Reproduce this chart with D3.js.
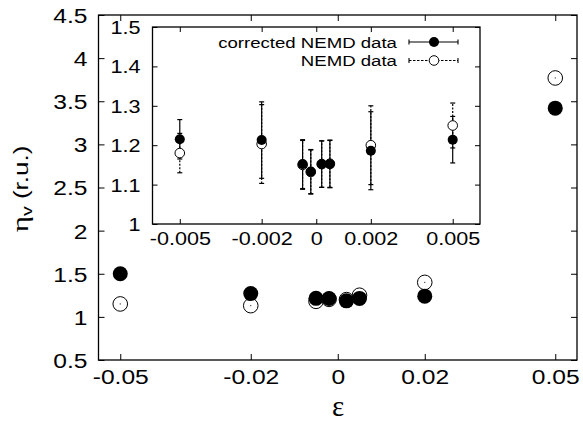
<!DOCTYPE html>
<html><head><meta charset="utf-8">
<script src="https://cdn.jsdelivr.net/npm/d3@7"></script>
<style>
body{margin:0;background:#fff;}
svg text{font-family:"Liberation Sans",Arial,sans-serif;fill:#000;}
.st{transform-box:fill-box;transform-origin:center;transform:scaleX(1.2);}
.str{transform-box:fill-box;transform-origin:right center;transform:scaleX(1.2);}
</style></head>
<body>
<svg id="c" width="583" height="423"></svg>
<script>
// ---- data ----
const mainX = [-0.05, -0.02, -0.005, -0.002, 0.002, 0.005, 0.02, 0.05];
const mainCorrected = [1.50, 1.27, 1.215, 1.213, 1.186, 1.214, 1.24, 3.42];
const mainNEMD = [1.15, 1.13, 1.18, 1.203, 1.20, 1.251, 1.40, 3.77];

const insetX = [-0.005, -0.002, -0.0005, -0.0002, 0.0002, 0.0005, 0.002, 0.005];
const insetCorrected = [1.215, 1.213, 1.152, 1.133, 1.152, 1.152, 1.186, 1.214];
const insetCorrectedErr = [0.05, 0.097, 0.062, 0.056, 0.059, 0.06, 0.099, 0.059];
const insetNEMD = [1.18, 1.203, 1.15, 1.132, 1.152, 1.153, 1.20, 1.25];
const insetNEMDErr = [0.05, 0.10, 0.062, 0.056, 0.059, 0.06, 0.10, 0.057];

const mainXTicks = [-0.05, -0.02, 0, 0.02, 0.05];
const mainYTicks = [0.5, 1, 1.5, 2, 2.5, 3, 3.5, 4, 4.5];
const insetXTicks = [-0.005, -0.002, 0, 0.002, 0.005];
const insetYTicks = [1, 1.1, 1.2, 1.3, 1.4, 1.5];
const legendLabels = ["corrected NEMD data", "NEMD data"];

const svg = d3.select("#c");

// ---- main plot ----
const mx = d3.scaleLinear().domain([-0.055, 0.055]).range([98.5, 577]);
const my = d3.scaleLinear().domain([0.5, 4.5]).range([360, 15]);

function fmt(d){ return String(d); }

const gb = svg.append("g").attr("transform", `translate(0,${my.range()[0]})`)
  .call(d3.axisBottom(mx).tickValues(mainXTicks).tickSize(-6).tickPadding(9).tickFormat(fmt));
const gt = svg.append("g").attr("transform", `translate(0,${my.range()[1]})`)
  .call(d3.axisTop(mx).tickValues(mainXTicks).tickSize(-6).tickFormat(""));
const gl = svg.append("g").attr("transform", `translate(${mx.range()[0]},0)`)
  .call(d3.axisLeft(my).tickValues(mainYTicks).tickSize(-6).tickPadding(11).tickFormat(fmt));
const gr = svg.append("g").attr("transform", `translate(${mx.range()[1]},0)`)
  .call(d3.axisRight(my).tickValues(mainYTicks).tickSize(-6).tickFormat(""));
[gb,gt,gl,gr].forEach(g=>{ g.select(".domain").remove(); g.selectAll("line").attr("stroke","#000").attr("stroke-width",1); });
gb.selectAll("text").attr("font-size",20.5).attr("class","st");
gl.selectAll("text").attr("font-size",20.5).attr("class","str").attr("dy","0.36em");
svg.append("rect").attr("x",mx.range()[0]).attr("y",my.range()[1])
  .attr("width",mx.range()[1]-mx.range()[0]).attr("height",my.range()[0]-my.range()[1])
  .attr("fill","none").attr("stroke","#000").attr("stroke-width",1.3);

// main points
const mainG = svg.append("g");
mainG.selectAll("circle.f").data(mainX).join("circle")
  .attr("cx",(d)=>mx(d)).attr("cy",(d,i)=>my(mainCorrected[i])).attr("r",7.5).attr("fill","#000");
mainG.selectAll("circle.o").data(mainX).join("circle").attr("class","o")
  .attr("cx",(d)=>mx(d)).attr("cy",(d,i)=>my(mainNEMD[i])).attr("r",7.3)
  .attr("fill","none").attr("stroke","#000").attr("stroke-width",1);
mainG.selectAll("rect.dot").data(mainX).join("rect").attr("class","dot")
  .attr("x",(d)=>mx(d)-0.5).attr("y",(d,i)=>my(mainNEMD[i])-0.5).attr("width",1).attr("height",1).attr("fill","#000");

// axis titles
svg.append("text").attr("transform","translate(28,189) rotate(-90) scale(1.3,1)")
  .attr("text-anchor","middle").attr("font-size",20)
  .html('<tspan font-family="Liberation Serif" font-size="24">η</tspan><tspan font-size="15" dy="4">v</tspan><tspan dy="-4"> (r.u.)</tspan>');
svg.append("text").attr("x",338).attr("y",416).attr("text-anchor","middle")
  .attr("font-size",29).style("font-family","Liberation Serif").text("ε");

// ---- inset ----
const ix = d3.scaleLinear().domain([-0.006, 0.006]).range([152.5, 480]);
const iy = d3.scaleLinear().domain([1.0, 1.5]).range([224, 27]);
svg.append("rect").attr("x",ix.range()[0]).attr("y",iy.range()[1])
  .attr("width",ix.range()[1]-ix.range()[0]).attr("height",iy.range()[0]-iy.range()[1]).attr("fill","#fff");

const ib = svg.append("g").attr("transform",`translate(0,${iy.range()[0]})`)
  .call(d3.axisBottom(ix).tickValues(insetXTicks).tickSize(-5).tickPadding(8).tickFormat(fmt));
const it = svg.append("g").attr("transform",`translate(0,${iy.range()[1]})`)
  .call(d3.axisTop(ix).tickValues(insetXTicks).tickSize(-5).tickFormat(""));
const il = svg.append("g").attr("transform",`translate(${ix.range()[0]},0)`)
  .call(d3.axisLeft(iy).tickValues(insetYTicks).tickSize(-5).tickPadding(12).tickFormat(fmt));
const ir = svg.append("g").attr("transform",`translate(${ix.range()[1]},0)`)
  .call(d3.axisRight(iy).tickValues(insetYTicks).tickSize(-5).tickFormat(""));
[ib,it,il,ir].forEach(g=>{ g.select(".domain").remove(); g.selectAll("line").attr("stroke","#000").attr("stroke-width",1); });
ib.selectAll("text").attr("font-size",18).attr("class","st");
il.selectAll("text").attr("font-size",18).attr("class","str").attr("dy","0.36em");

// error bars & points
const ig = svg.append("g");
function errBars(vals, errs, dash){
  const g = ig.append("g").attr("stroke","#000").attr("stroke-width",1.2).attr("stroke-dasharray",dash);
  g.selectAll("line.v").data(insetX).join("line")
    .attr("x1",d=>ix(d)).attr("x2",d=>ix(d))
    .attr("y1",(d,i)=>iy(vals[i]-errs[i])).attr("y2",(d,i)=>iy(vals[i]+errs[i]));
  const c = ig.append("g").attr("stroke","#000").attr("stroke-width",1.2);
  c.selectAll("line.t").data(insetX).join("line")
    .attr("x1",d=>ix(d)-2.5).attr("x2",d=>ix(d)+2.5)
    .attr("y1",(d,i)=>iy(vals[i]+errs[i])).attr("y2",(d,i)=>iy(vals[i]+errs[i]));
  c.selectAll("line.b").data(insetX).join("line")
    .attr("x1",d=>ix(d)-2.5).attr("x2",d=>ix(d)+2.5)
    .attr("y1",(d,i)=>iy(vals[i]-errs[i])).attr("y2",(d,i)=>iy(vals[i]-errs[i]));
}
errBars(insetNEMD, insetNEMDErr, "2,1.5");
errBars(insetCorrected, insetCorrectedErr, null);
ig.selectAll("circle.o").data(insetX).join("circle").attr("class","o")
  .attr("cx",d=>ix(d)).attr("cy",(d,i)=>iy(insetNEMD[i])).attr("r",4.8)
  .attr("fill","#fff").attr("stroke","#000").attr("stroke-width",1);
ig.selectAll("circle.f").data(insetX).join("circle").attr("class","f")
  .attr("cx",d=>ix(d)).attr("cy",(d,i)=>iy(insetCorrected[i])).attr("r",5).attr("fill","#000");

svg.append("rect").attr("x",ix.range()[0]).attr("y",iy.range()[1])
  .attr("width",ix.range()[1]-ix.range()[0]).attr("height",iy.range()[0]-iy.range()[1])
  .attr("fill","none").attr("stroke","#000").attr("stroke-width",1.3);

// legend
const lg = svg.append("g");
const ly = [42, 60.5];
legendLabels.forEach((lab,i)=>{
  lg.append("text").attr("x",397).attr("y",ly[i]).attr("dy","0.36em").attr("text-anchor","end")
    .attr("font-size",15.5).attr("class","str").text(lab);
  lg.append("line").attr("x1",409).attr("x2",458).attr("y1",ly[i]).attr("y2",ly[i])
    .attr("stroke","#000").attr("stroke-width",1.1).attr("stroke-dasharray", i===0?null:"2.5,1.5");
  [409,458].forEach(xx=>lg.append("line").attr("x1",xx).attr("x2",xx).attr("y1",ly[i]-2.5).attr("y2",ly[i]+2.5).attr("stroke","#000").attr("stroke-width",1.1));
  if(i===0) lg.append("circle").attr("cx",434).attr("cy",ly[i]).attr("r",5).attr("fill","#000");
  else lg.append("circle").attr("cx",434).attr("cy",ly[i]).attr("r",4.8).attr("fill","#fff").attr("stroke","#000");
});
</script>
</body></html>
